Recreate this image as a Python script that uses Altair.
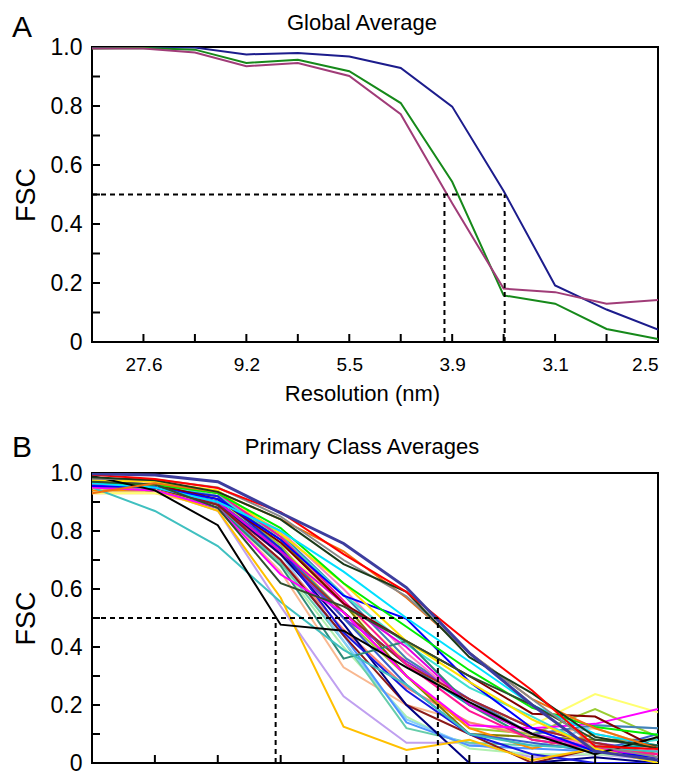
import altair as alt
import pandas as pd

FONT = "Liberation Sans"

# ---------------- Panel A : Global Average ----------------
a_index = list(range(12))
a_names = ["Navy", "Green", "Purple"]
a_navy = [0.997, 1.000, 0.998, 0.975, 0.980, 0.968, 0.929, 0.798, 0.512, 0.192, 0.110, 0.042]
a_green = [0.995, 0.997, 0.991, 0.946, 0.957, 0.918, 0.810, 0.543, 0.158, 0.130, 0.044, 0.010]
a_purple = [0.995, 0.995, 0.981, 0.935, 0.946, 0.902, 0.772, 0.470, 0.181, 0.169, 0.130, 0.142]
a_colors = ["#1c1c8c", "#16891a", "#a03c78"]
a_label_values = [1, 3, 5, 7, 9, 11]
a_label_texts = ["27.6", "9.2", "5.5", "3.9", "3.1", "2.5"]
a_xticks = [1, 2, 3, 4, 5, 6, 7, 8, 9, 10]
a_half_x = [6.85, 8.02]

# ---------------- Panel B : Primary Class Averages ----------------
b_index = list(range(10))
b_slate = [0.997, 0.993, 0.970, 0.862, 0.757, 0.605, 0.380, 0.200, 0.040, 0.010]
b_red = [0.994, 0.979, 0.948, 0.865, 0.720, 0.590, 0.414, 0.250, 0.058, 0.048]
b_dkgreen = [0.985, 0.975, 0.935, 0.840, 0.686, 0.590, 0.365, 0.240, 0.090, 0.050]
b_gray = [0.980, 0.978, 0.950, 0.850, 0.700, 0.575, 0.380, 0.220, 0.060, 0.020]
b_orange = [0.930, 0.965, 0.935, 0.840, 0.730, 0.570, 0.380, 0.220, 0.120, 0.050]
b_cyan = [0.965, 0.950, 0.900, 0.800, 0.660, 0.500, 0.350, 0.200, 0.100, 0.060]
b_green = [0.965, 0.960, 0.930, 0.810, 0.620, 0.470, 0.320, 0.190, 0.124, 0.097]
b_yellow = [0.975, 0.970, 0.940, 0.790, 0.620, 0.420, 0.280, 0.150, 0.050, 0.000]
b_yelgreen = [0.950, 0.950, 0.910, 0.750, 0.500, 0.300, 0.120, 0.100, 0.186, 0.090]
b_ltyellow = [0.930, 0.930, 0.900, 0.740, 0.550, 0.350, 0.200, 0.130, 0.238, 0.175]
b_magenta = [0.950, 0.940, 0.880, 0.650, 0.520, 0.300, 0.130, 0.120, 0.135, 0.186]
b_magenta2 = [0.960, 0.950, 0.900, 0.730, 0.550, 0.400, 0.200, 0.100, 0.050, 0.020]
b_black = [0.990, 0.940, 0.820, 0.477, 0.456, 0.330, 0.210, 0.100, 0.030, 0.090]
b_teal = [0.950, 0.869, 0.748, 0.555, 0.390, 0.270, 0.100, 0.060, 0.050, 0.040]
b_gold = [0.950, 0.940, 0.870, 0.570, 0.125, 0.045, 0.080, 0.010, 0.050, 0.030]
b_lavender = [0.950, 0.940, 0.870, 0.540, 0.230, 0.070, 0.070, 0.020, 0.030, 0.010]
b_peach = [0.930, 0.930, 0.880, 0.660, 0.330, 0.200, 0.140, 0.100, 0.120, 0.050]
b_tealgreen = [0.950, 0.940, 0.880, 0.680, 0.360, 0.420, 0.200, 0.080, 0.050, 0.030]
b_blue = [0.955, 0.950, 0.910, 0.770, 0.577, 0.497, 0.280, 0.120, 0.040, 0.020]
b_blue2 = [0.960, 0.950, 0.920, 0.740, 0.450, 0.250, 0.100, 0.030, 0.000, 0.000]
b_navy = [0.960, 0.950, 0.900, 0.720, 0.480, 0.200, 0.000, 0.000, 0.020, 0.000]
b_maroon = [0.970, 0.960, 0.910, 0.760, 0.550, 0.420, 0.300, 0.170, 0.160, 0.050]
b_maroon2 = [0.960, 0.950, 0.890, 0.700, 0.440, 0.200, 0.100, 0.000, 0.050, 0.020]
b_brown = [0.960, 0.950, 0.890, 0.720, 0.520, 0.340, 0.220, 0.120, 0.070, 0.030]
b_ltblue = [0.960, 0.950, 0.900, 0.720, 0.420, 0.150, 0.060, 0.050, 0.130, 0.120]
b_skyblue = [0.950, 0.940, 0.880, 0.700, 0.440, 0.140, 0.060, 0.050, 0.040, 0.030]
b_royal = [0.960, 0.950, 0.900, 0.740, 0.500, 0.270, 0.100, 0.070, 0.040, 0.100]
b_palegreen = [0.940, 0.940, 0.880, 0.680, 0.400, 0.160, 0.050, 0.030, 0.030, 0.020]
b_aqua = [0.950, 0.940, 0.880, 0.690, 0.420, 0.120, 0.070, 0.060, 0.060, 0.060]
b_dkcyan = [0.960, 0.950, 0.890, 0.730, 0.520, 0.340, 0.200, 0.100, 0.050, 0.060]
b_turq = [0.970, 0.960, 0.920, 0.780, 0.580, 0.410, 0.260, 0.160, 0.050, 0.080]
b_purple = [0.960, 0.950, 0.900, 0.720, 0.500, 0.350, 0.220, 0.120, 0.070, 0.040]
b_pink = [0.970, 0.960, 0.920, 0.800, 0.600, 0.380, 0.200, 0.100, 0.060, 0.040]
b_olive = [0.970, 0.960, 0.920, 0.770, 0.550, 0.300, 0.100, 0.090, 0.080, 0.080]
b_dkorange = [0.940, 0.940, 0.900, 0.740, 0.520, 0.300, 0.120, 0.050, 0.100, 0.060]
b_deeppink = [0.980, 0.970, 0.930, 0.780, 0.560, 0.340, 0.180, 0.080, 0.050, 0.030]
b_steel = [0.970, 0.960, 0.920, 0.790, 0.580, 0.360, 0.220, 0.100, 0.130, 0.120]
b_dkolive = [0.970, 0.960, 0.880, 0.620, 0.540, 0.420, 0.300, 0.200, 0.080, 0.060]
b_salmon = [0.950, 0.940, 0.890, 0.700, 0.460, 0.260, 0.140, 0.090, 0.070, 0.030]

b_series = [
    ("lavender", b_lavender, "#c0a0f0"), ("peach", b_peach, "#f8b890"),
    ("palegreen", b_palegreen, "#b0f0b0"), ("aqua", b_aqua, "#66cdaa"),
    ("ltblue", b_ltblue, "#87cefa"), ("skyblue", b_skyblue, "#4f94ff"),
    ("ltyellow", b_ltyellow, "#ffff70"), ("yelgreen", b_yelgreen, "#9acd32"),
    ("salmon", b_salmon, "#fa8072"), ("steel", b_steel, "#4682b4"),
    ("olive", b_olive, "#808000"), ("dkorange", b_dkorange, "#ff8c00"),
    ("purple", b_purple, "#8a2be2"), ("pink", b_pink, "#ff80c0"),
    ("dkcyan", b_dkcyan, "#00a0b0"), ("turq", b_turq, "#40e0d0"),
    ("royal", b_royal, "#3a5fcd"), ("brown", b_brown, "#a52a2a"),
    ("maroon2", b_maroon2, "#8b1a1a"), ("navy", b_navy, "#000080"),
    ("blue2", b_blue2, "#1818e0"), ("tealgreen", b_tealgreen, "#2e8b78"),
    ("teal", b_teal, "#40c0c0"), ("gold", b_gold, "#ffc000"),
    ("deeppink", b_deeppink, "#ff1493"), ("magenta2", b_magenta2, "#e000e0"),
    ("magenta", b_magenta, "#ff00ff"), ("maroon", b_maroon, "#800000"),
    ("blue", b_blue, "#0000ff"), ("yellow", b_yellow, "#ffe000"),
    ("green", b_green, "#00ee00"), ("cyan", b_cyan, "#00e0ff"),
    ("dkolive", b_dkolive, "#2f4f2f"), ("black", b_black, "#000000"),
    ("orange", b_orange, "#f07010"), ("gray", b_gray, "#8a8a8a"),
    ("dkgreen", b_dkgreen, "#1a3a1a"), ("red", b_red, "#ff0000"),
    ("slate", b_slate, "#3d3d9e"),
]
b_xticks = [1, 2, 3, 4, 5, 6, 7, 8]
b_half_x = [2.92, 5.50]

y_label_values = [0.0, 0.2, 0.4, 0.6, 0.8, 1.0]
y_minor_ticks = [0.1, 0.2, 0.3, 0.4, 0.5, 0.6, 0.7, 0.8, 0.9]

W = 566
HA = 295
HB = 290


def y_enc(title):
    return alt.Y(
        "fsc:Q",
        scale=alt.Scale(domain=[0, 1], nice=False, zero=False),
        axis=alt.Axis(
            values=y_label_values,
            labelExpr="datum.value == 0 ? '0' : format(datum.value, '.1f')",
            title=title, titleFontSize=27, titleFont=FONT, titleFontWeight="normal",
            titlePadding=10, labelFontSize=23, labelFont=FONT, labelPadding=10,
            labelBaseline="middle",
        ),
    )


def panel(df, n_idx, color_field, color_dom, color_rng, title, letter, x_axis,
          xticks, half_x, H, letter_y, title_y):
    xs = alt.Scale(domain=[0, n_idx], nice=False, zero=False)
    lines = alt.Chart(df).mark_line(clip=True).encode(
        x=alt.X("idx:Q", scale=xs, axis=x_axis),
        y=y_enc("FSC"),
        color=alt.Color(color_field + ":N", scale=alt.Scale(domain=color_dom, range=color_rng), legend=None),
        strokeWidth=alt.StrokeWidth("w:Q", scale=None, legend=None),
        order="ord:Q",
    )
    hdash = alt.Chart(pd.DataFrame({"idx": [0], "idx2": [half_x[1]], "fsc": [0.5]})).mark_rule(
        color="black", strokeWidth=2, strokeDash=[5, 4]
    ).encode(x="idx:Q", x2="idx2:Q", y="fsc:Q")
    vdash = alt.Chart(pd.DataFrame({"idx": half_x, "fsc": [0, 0], "fsc2": [0.5, 0.5]})).mark_rule(
        color="black", strokeWidth=2, strokeDash=[5, 4]
    ).encode(x="idx:Q", y="fsc:Q", y2="fsc2:Q")
    yt = alt.Chart(pd.DataFrame({"fsc": y_minor_ticks})).mark_rule(color="black", strokeWidth=2).encode(
        y="fsc:Q", x=alt.value(0), x2=alt.value(8)
    )
    xt = alt.Chart(pd.DataFrame({"idx": xticks})).mark_rule(color="black", strokeWidth=2).encode(
        x="idx:Q", y=alt.value(H), y2=alt.value(H - 8)
    )
    let = alt.Chart(pd.DataFrame({"t": [letter]})).mark_text(
        fontSize=30, font=FONT, align="left", baseline="alphabetic", color="black"
    ).encode(text="t:N", x=alt.value(-80), y=alt.value(letter_y))
    ttl = alt.Chart(pd.DataFrame({"t": [title]})).mark_text(
        fontSize=22, font=FONT, align="center", baseline="alphabetic", color="black"
    ).encode(text="t:N", x=alt.value(W / 2 - 13), y=alt.value(title_y))
    return alt.layer(lines, hdash, vdash, yt, xt, let, ttl).properties(width=W, height=H)


rows = []
for name, vals in zip(a_names, [a_navy, a_green, a_purple]):
    for i, v in zip(a_index, vals):
        rows.append({"seriesA": name, "idx": i, "fsc": v, "w": 2, "ord": i})
df_a = pd.DataFrame(rows)

label_arr = [""] * 12
for v, t in zip(a_label_values, a_label_texts):
    label_arr[v] = t
label_js = "[" + ",".join("'" + t + "'" for t in label_arr) + "][datum.value]"

x_axis_a = alt.Axis(
    values=a_label_values, labelExpr=label_js, title="Resolution (nm)",
    labelFontSize=19, labelFont=FONT, labelPadding=13, titleFontSize=22, titleFont=FONT,
    titleFontWeight="normal", titlePadding=9, titleX=270,
)
x_axis_b = alt.Axis(labels=False, title=None, values=b_xticks)

rows = []
for name, vals, col in b_series:
    for i, v in zip(b_index, vals):
        rows.append({"seriesB": name, "idx": i, "fsc": v, "w": 3 if name == "slate" else 2, "ord": i})
df_b = pd.DataFrame(rows)

pa = panel(df_a, 11, "seriesA", a_names, a_colors, "Global Average", "A", x_axis_a,
           a_xticks, a_half_x, HA, -10, -17)
pb = panel(df_b, 9, "seriesB", [s[0] for s in b_series], [s[2] for s in b_series],
           "Primary Class Averages", "B", x_axis_b, b_xticks, b_half_x, HB, -16, -19)

chart = alt.vconcat(pa, pb, spacing=27).resolve_scale(color="independent").properties(
    padding={"left": 3, "top": 3, "right": 0, "bottom": 0}
).configure_view(stroke="black", strokeWidth=2).configure_axis(
    grid=False, ticks=False, tickSize=0, domain=False, labelColor="black", titleColor="black"
)

chart.save("out.html", embed_options={"renderer": "svg", "actions": False})
